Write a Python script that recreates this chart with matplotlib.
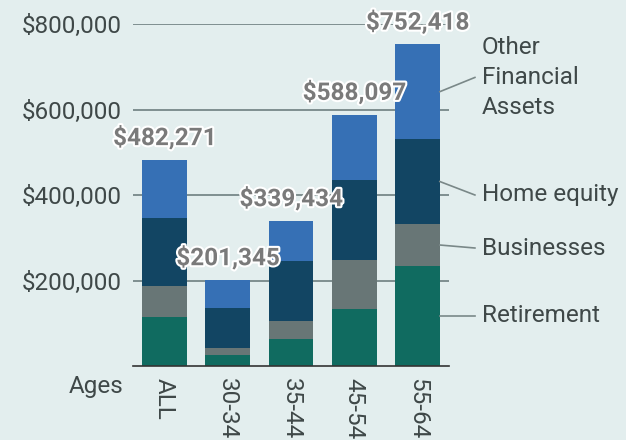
import numpy as np
import matplotlib
matplotlib.use("Agg")
import matplotlib.pyplot as plt
import matplotlib.patheffects as pe

# DATA
ages = ["ALL", "30-34", "35-44", "45-54", "55-64"]
totals = [482271, 201345, 339434, 588097, 752418]
retirement = [115000, 26000, 63000, 133000, 234000]
businesses = [72000, 16000, 42000, 115000, 98000]
home_equity = [159000, 94000, 140000, 187000, 199000]
other_assets = [t - r - b - h for t, r, b, h in zip(totals, retirement, businesses, home_equity)]

series_names = ["Retirement", "Businesses", "Home equity", "Other\nFinancial\nAssets"]
series_colors = ["#106b60", "#687676", "#124563", "#3670b5"]
label_y = [117000, 276000, 400000, 675000]

bg = "#e3eeee"
plt.rcParams['font.family'] = ['Roboto', 'DejaVu Sans']
fs = 17.5
txt = "#3f4848"

fig = plt.figure(figsize=(6.26, 4.40), dpi=100, facecolor=bg)
ax = fig.add_axes([133/626, 1-366/440, 316/626, 342/440])
ax.set_facecolor(bg)

x = np.arange(len(ages))
bottom = np.zeros(len(ages))
series = [retirement, businesses, home_equity, other_assets]
for vals, col in zip(series, series_colors):
    ax.bar(x, vals, width=0.71, bottom=bottom, color=col, zorder=2)
    bottom += np.array(vals)

# total labels
for xi, t in zip(x, totals):
    ax.annotate("${:,}".format(t), (xi, t), xytext=(0, 7), textcoords="offset points",
                ha="center", va="bottom", fontsize=fs, fontweight="bold", color="#7a7a7a",
                path_effects=[pe.withStroke(linewidth=3, foreground="white")], zorder=5,
                annotation_clip=False)

# leader labels for last bar
last = len(ages) - 1
bot = 0
for vals, name, ly in zip(series, series_names, label_y):
    mid = bot + vals[last] / 2
    bot += vals[last]
    ax.plot([last + 0.355, 4.91], [mid, ly], color="#7a8888", lw=1.2, clip_on=False, zorder=3)
    ax.text(5.02, ly, name, ha="left", va="center", fontsize=fs,
            color=txt, linespacing=1.4, clip_on=False)

ax.set_xlim(-0.5, 4.5)
ax.set_ylim(0, 800000)
ax.set_yticks([200000, 400000, 600000, 800000])
ax.set_yticklabels(["${:,}".format(v) for v in [200000, 400000, 600000, 800000]])
ax.yaxis.grid(True, color="#6e7f80", lw=1.2, zorder=0)
ax.set_axisbelow(True)
ax.set_xticks(x)
ax.set_xticklabels(ages, rotation=-90, va="top", ha="center")
ax.tick_params(axis="both", length=0, labelsize=fs, colors=txt, pad=8)
ax.tick_params(axis="x", pad=9)
for s in ["top", "right", "left"]:
    ax.spines[s].set_visible(False)
ax.spines["bottom"].set_color("#333333")
ax.spines["bottom"].set_linewidth(1.2)

fig.text(123/626, 1-386/440, "Ages", ha="right", va="center", fontsize=fs, color=txt)

fig.savefig("out.png", dpi=100, facecolor=bg)
